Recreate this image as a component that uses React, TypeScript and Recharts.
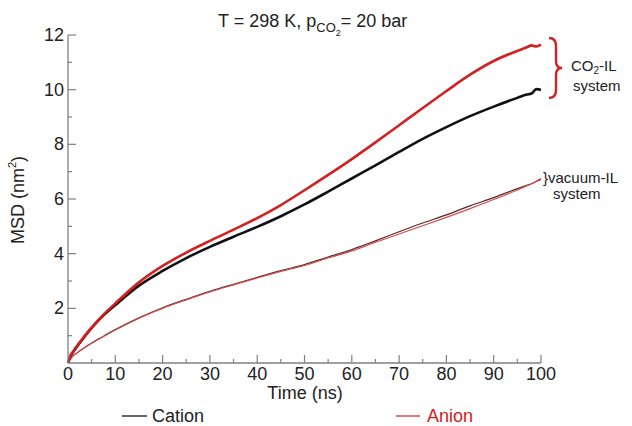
import { CartesianGrid, Line, LineChart, XAxis, YAxis } from "recharts";

const times = [0, 0.5, 1, 2, 3, 5, 7.5, 10, 15, 20, 25, 30, 35, 40, 45, 50, 55, 60, 65, 70, 75, 80, 85, 90, 95, 97, 98, 99, 100];

const cationCo2 = [0, 0.25, 0.38, 0.62, 0.85, 1.28, 1.74, 2.12, 2.83, 3.37, 3.84, 4.25, 4.62, 4.98, 5.37, 5.8, 6.27, 6.75, 7.23, 7.72, 8.2, 8.63, 9.03, 9.38, 9.7, 9.82, 9.86, 10.02, 10.0];
const anionCo2 = [0, 0.26, 0.4, 0.65, 0.88, 1.3, 1.77, 2.18, 2.95, 3.55, 4.04, 4.47, 4.88, 5.3, 5.78, 6.32, 6.88, 7.46, 8.07, 8.7, 9.33, 9.95, 10.55, 11.05, 11.42, 11.55, 11.62, 11.58, 11.65];
const cationVac = [0, 0.15, 0.25, 0.38, 0.5, 0.73, 0.98, 1.22, 1.65, 2.02, 2.33, 2.62, 2.88, 3.13, 3.38, 3.6, 3.88, 4.15, 4.47, 4.8, 5.12, 5.42, 5.75, 6.05, 6.38, 6.5, 6.56, 6.64, 6.72];
const anionVac = [0, 0.15, 0.25, 0.38, 0.5, 0.72, 0.97, 1.21, 1.64, 2.0, 2.31, 2.6, 2.86, 3.11, 3.35, 3.57, 3.84, 4.1, 4.42, 4.72, 5.02, 5.33, 5.65, 5.98, 6.33, 6.48, 6.56, 6.65, 6.75];

const xTicks = [0, 5, 10, 15, 20, 25, 30, 35, 40, 45, 50, 55, 60, 65, 70, 75, 80, 85, 90, 95, 100];
const yTicks = [1, 2, 3, 4, 5, 6, 7, 8, 9, 10, 11, 12];

const data = times.map((t, i) => ({
  t,
  cationCo2: cationCo2[i],
  anionCo2: anionCo2[i],
  cationVac: cationVac[i],
  anionVac: anionVac[i],
}));

const FONT = "'Liberation Sans', Arial, sans-serif";
const AXIS = "#808080";
const RED = "#d42020";

function XTick(props: any) {
  const { x, y, payload } = props;
  const major = payload.value % 10 === 0;
  return (
    <g>
      {payload.value !== 0 && <line x1={x} x2={x} y1={y} y2={y - (major ? 8 : 4)} stroke={AXIS} strokeWidth={1.2} />}
      {major && (
        <text x={x} y={y + 17} textAnchor="middle" fontSize={18} fontFamily={FONT} fill="#222">
          {payload.value}
        </text>
      )}
    </g>
  );
}

function YTick(props: any) {
  const { x, y, payload } = props;
  const major = payload.value % 2 === 0;
  return (
    <g>
      <line x1={x} x2={x + (major ? 8 : 4)} y1={y} y2={y} stroke={AXIS} strokeWidth={1.2} />
      {major && (
        <text x={x - 4} y={y + 6} textAnchor="end" fontSize={18} fontFamily={FONT} fill="#222">
          {payload.value}
        </text>
      )}
    </g>
  );
}

export default function App() {
  return (
    <div style={{ position: "absolute", left: 0, top: 0, width: 632, height: 426, background: "#fff" }}>
      <LineChart width={632} height={426} data={data} margin={{ top: 35, right: 91, bottom: 33, left: 8 }}>
        <CartesianGrid stroke="none" />
        <XAxis
          dataKey="t"
          type="number"
          domain={[0, 100]}
          ticks={xTicks}
          interval={0}
          tickLine={false}
          tickSize={0}
          tickMargin={0}
          height={30}
          axisLine={{ stroke: AXIS, strokeWidth: 1.3 }}
          tick={<XTick />}
        />
        <YAxis
          type="number"
          domain={[0, 12]}
          ticks={yTicks}
          interval={0}
          tickLine={false}
          tickSize={0}
          tickMargin={0}
          width={60}
          axisLine={{ stroke: AXIS, strokeWidth: 1.3 }}
          tick={<YTick />}
        />
        <Line dataKey="cationVac" type="monotone" stroke="#5a2626" strokeWidth={1.2} dot={false} isAnimationActive={false} />
        <Line dataKey="anionVac" type="monotone" stroke="#d05050" strokeWidth={1.2} dot={false} isAnimationActive={false} />
        <Line dataKey="cationCo2" type="monotone" stroke="#111" strokeWidth={2.6} dot={false} isAnimationActive={false} />
        <Line dataKey="anionCo2" type="monotone" stroke={RED} strokeWidth={2.6} dot={false} isAnimationActive={false} />
      </LineChart>
      <svg width={632} height={426} style={{ position: "absolute", left: 0, top: 0, pointerEvents: "none" }} fontFamily={FONT}>
        <text x={218} y={27} fontSize={18} fill="#222">
          T = 298 K, p
          <tspan fontSize={13} dy={5}>CO</tspan>
          <tspan fontSize={9} dy={4}>2</tspan>
          <tspan fontSize={18} dy={-9}>= 20 bar</tspan>
        </text>
        <text x={24} y={200} fontSize={18} fill="#222" textAnchor="middle" transform="rotate(-90 24 200)">
          MSD (nm
          <tspan fontSize={11} dy={-8}>2</tspan>
          <tspan dy={8}>)</tspan>
        </text>
        <text x={305} y={399} fontSize={18} fill="#222" textAnchor="middle">Time (ns)</text>
        <path d="M549,38 Q556,38 556,46 L556,61 Q556,68 562,68 Q556,68 556,75 L556,90 Q556,98 549,98" fill="none" stroke={RED} strokeWidth={2.4} />
        <text x={571} y={71} fontSize={15} fill="#222">
          CO<tspan fontSize={10} dy={3}>2</tspan><tspan dy={-3}>-IL</tspan>
        </text>
        <text x={573} y={91} fontSize={15} fill="#222">system</text>
        <text x={543} y={183} fontSize={15} fill="#222">{"}vacuum-IL"}</text>
        <text x={553} y={199} fontSize={15} fill="#222">system</text>
        <line x1={122} x2={147} y1={416} y2={416} stroke="#333" strokeWidth={1.5} />
        <text x={152} y={422} fontSize={18} fill="#222">Cation</text>
        <line x1={396} x2={420} y1={416} y2={416} stroke={RED} strokeWidth={1.2} />
        <text x={427} y={422} fontSize={18} fill={RED}>Anion</text>
      </svg>
    </div>
  );
}
